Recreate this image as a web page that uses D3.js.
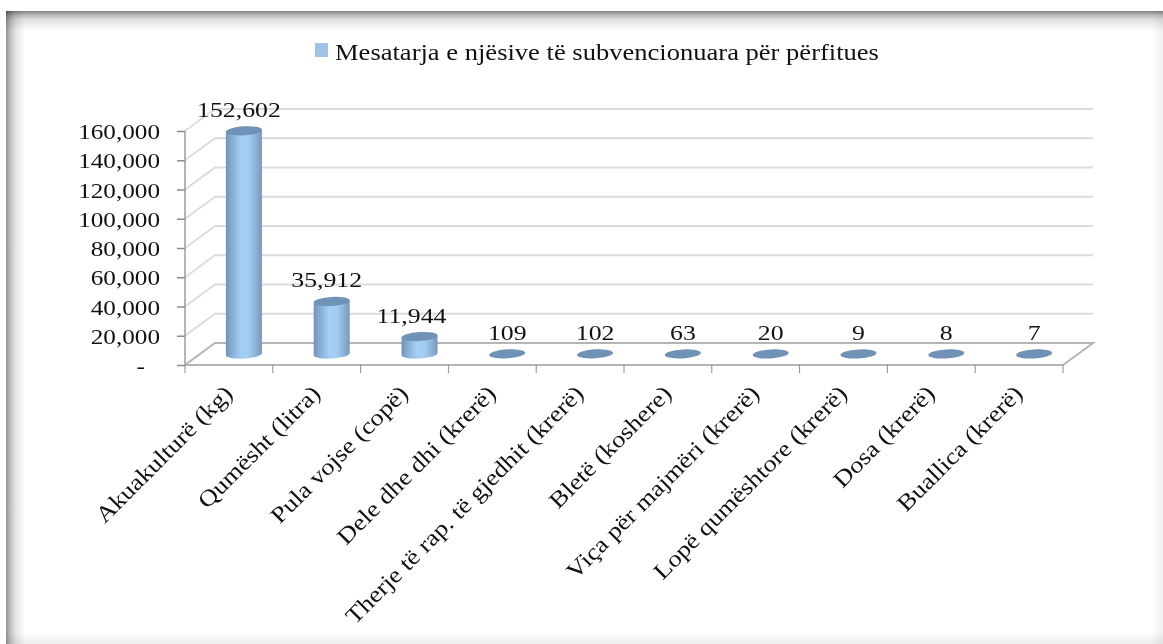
<!DOCTYPE html>
<html>
<head>
<meta charset="utf-8">
<script src="https://cdn.jsdelivr.net/npm/d3@7"></script>
<style>
  html, body { margin: 0; padding: 0; background: #fff; }
  svg { display: block; }
  text { font-family: "Liberation Serif", serif; fill: #111; }
</style>
</head>
<body>
<svg id="chart"></svg>
<script>
const categories = [
  "Akuakulturë (kg)", "Qumësht (litra)", "Pula vojse (copë)", "Dele dhe dhi (krerë)",
  "Therje të rap. të gjedhit (krerë)", "Bletë (koshere)", "Viça për majmëri (krerë)",
  "Lopë qumështore  (krerë)", "Dosa (krerë)", "Buallica (krerë)"
];
const values = [152602, 35912, 11944, 109, 102, 63, 20, 9, 8, 7];
const yTicks = [0, 20000, 40000, 60000, 80000, 100000, 120000, 140000, 160000];
const legendLabel = "Mesatarja e njësive të subvencionuara për përfitues";

const width = 1163, height = 644;
const margin = { top: 131, right: 100, bottom: 279, left: 185 };
const depthX = 30, depthY = 22; // 3d wall offset
const rx = 18, ry = 4.5, tilt = -3.5; // cylinder caps lean a little
const stretch = 1.2; // the picture is wider than it is tall, text too

const svg = d3.select("#chart").attr("width", width).attr("height", height);
const defs = svg.append("defs");

function gradient(id, x2, y2, stops) {
  const g = defs.append("linearGradient").attr("id", id)
    .attr("x1", 0).attr("y1", 0).attr("x2", x2).attr("y2", y2);
  stops.forEach((s) => g.append("stop").attr("offset", s[0]).attr("stop-color", s[1]));
}
gradient("cyl", 1, 0, [[0, "#6f93b7"], [0.15, "#83abd2"], [0.42, "#a5cef4"], [0.65, "#a2ccf2"], [0.9, "#82a8cd"], [1, "#7397ba"]]);
gradient("edgeTop", 0, 1, [[0, "#808080"], [0.2, "#bbbbbb"], [0.45, "#e2e2e2"], [1, "#ffffff"]]);
gradient("edgeLeft", 1, 0, [[0, "#909090"], [0.2, "#bcbcbc"], [0.5, "#e4e4e4"], [1, "#ffffff"]]);
gradient("edgeRight", 1, 0, [[0, "#ffffff"], [1, "#f1f1f1"]]);
gradient("edgeBottom", 0, 1, [[0, "#ffffff"], [1, "#ececec"]]);

// picture frame shadow
svg.append("rect").attr("x", 6).attr("y", 11).attr("width", width - 6).attr("height", 20).attr("fill", "url(#edgeTop)");
svg.append("rect").attr("x", 6).attr("y", 11).attr("width", 19).attr("height", height - 11).attr("fill", "url(#edgeLeft)").style("mix-blend-mode", "multiply");
svg.append("rect").attr("x", width - 12).attr("y", 11).attr("width", 12).attr("height", height - 11).attr("fill", "url(#edgeRight)").style("mix-blend-mode", "multiply");
svg.append("rect").attr("x", 6).attr("y", height - 12).attr("width", width - 6).attr("height", 12).attr("fill", "url(#edgeBottom)").style("mix-blend-mode", "multiply");

const x = d3.scaleBand().domain(categories).range([margin.left, width - margin.right]);
const y = d3.scaleLinear().domain([0, 160000]).range([height - margin.bottom, margin.top]);
const x0 = x.range()[0], x1 = x.range()[1];

// back wall and side wall grid
const grid = svg.append("g").attr("fill", "none").attr("stroke", "#dcdcdc").attr("stroke-width", 2);
yTicks.forEach((t) => {
  if (t === 0) return;
  grid.append("path").attr("d", `M${x0},${y(t)}L${x0 + depthX},${y(t) - depthY}H${x1 + depthX}`);
});

// floor
svg.append("path")
  .attr("d", `M${x0},${y(0)}L${x0 + depthX},${y(0) - depthY}H${x1 + depthX}L${x1},${y(0)}Z`)
  .attr("fill", "none").attr("stroke", "#b4b4b4").attr("stroke-width", 2);
svg.append("path")
  .attr("d", `M${x0},${y(0)}V${y(160000)}`)
  .attr("fill", "none").attr("stroke", "#b4b4b4").attr("stroke-width", 2);

// axes
const yAxis = svg.append("g").attr("transform", `translate(${x0},0)`)
  .call(d3.axisLeft(y).tickValues(yTicks).tickSize(8).tickFormat(""));
yAxis.select(".domain").remove();
yAxis.selectAll("line").attr("stroke", "#8c8c8c").attr("stroke-width", 1.5);

const tickLabels = svg.append("g");
yTicks.forEach((t) => {
  tickLabels.append("text")
    .attr("transform", `translate(${x0 - (t === 0 ? 40 : 25)},${y(t) + 8}) scale(${stretch},1)`)
    .attr("text-anchor", "end").style("font-size", "21px")
    .text(t === 0 ? "-" : d3.format(",")(t));
});

const xTicks = svg.append("g").attr("stroke", "#8c8c8c").attr("stroke-width", 1);
d3.range(categories.length + 1).forEach((i) => {
  const px = x0 + i * x.step();
  xTicks.append("line").attr("x1", px).attr("x2", px).attr("y1", y(0)).attr("y2", y(0) + 8);
});

// cylinders
const cx = (d) => x(d) + x.bandwidth() / 2 + depthX / 2;
const baseY = y(0) - depthY / 2;
const barH = (v) => y(0) - y(v);
const lean = rx * Math.sin((-tilt * Math.PI) / 180); // end points of a leaning cap

const bars = svg.append("g").selectAll("g").data(categories).enter().append("g");
bars.append("path")
  .attr("fill", "url(#cyl)")
  .attr("d", (d, i) => {
    const c = cx(d), top = baseY - barH(values[i]);
    return `M${c - rx},${top + lean}V${baseY + lean}A${rx},${ry} ${tilt} 0 0 ${c + rx},${baseY - lean}V${top - lean}Z`;
  })
  .style("display", (d, i) => (barH(values[i]) < 1 ? "none" : null));
bars.append("ellipse")
  .attr("transform", (d, i) => `translate(${cx(d)},${baseY - barH(values[i])}) rotate(${tilt})`)
  .attr("rx", rx).attr("ry", ry).attr("fill", "#6f92b6");

// value labels, the three tall ones sit a bit left of their bars
const labelShift = [-5, -5, -8, 0, 0, 0, 0, 0, 0, 0];
bars.append("text")
  .attr("transform", (d, i) => `translate(${cx(d) + labelShift[i]},${baseY - barH(values[i]) - 14}) scale(${stretch},1)`)
  .attr("text-anchor", "middle").style("font-size", "21.5px")
  .text((d, i) => d3.format(",")(values[i]));

// category labels
svg.append("g").selectAll("text").data(categories).enter().append("text")
  .attr("transform", (d) => `translate(${x(d) + x.bandwidth() / 2 + 5},${y(0) + 30}) rotate(-45) scale(1.15,1)`)
  .attr("text-anchor", "end").style("font-size", "23px")
  .text((d) => d);

// legend
svg.append("rect").attr("x", 315).attr("y", 43).attr("width", 13).attr("height", 14).attr("fill", "#9dc3e8");
svg.append("text")
  .attr("transform", "translate(335,60) scale(1.155,1)")
  .style("font-size", "23px")
  .text(legendLabel);
</script>
</body>
</html>
